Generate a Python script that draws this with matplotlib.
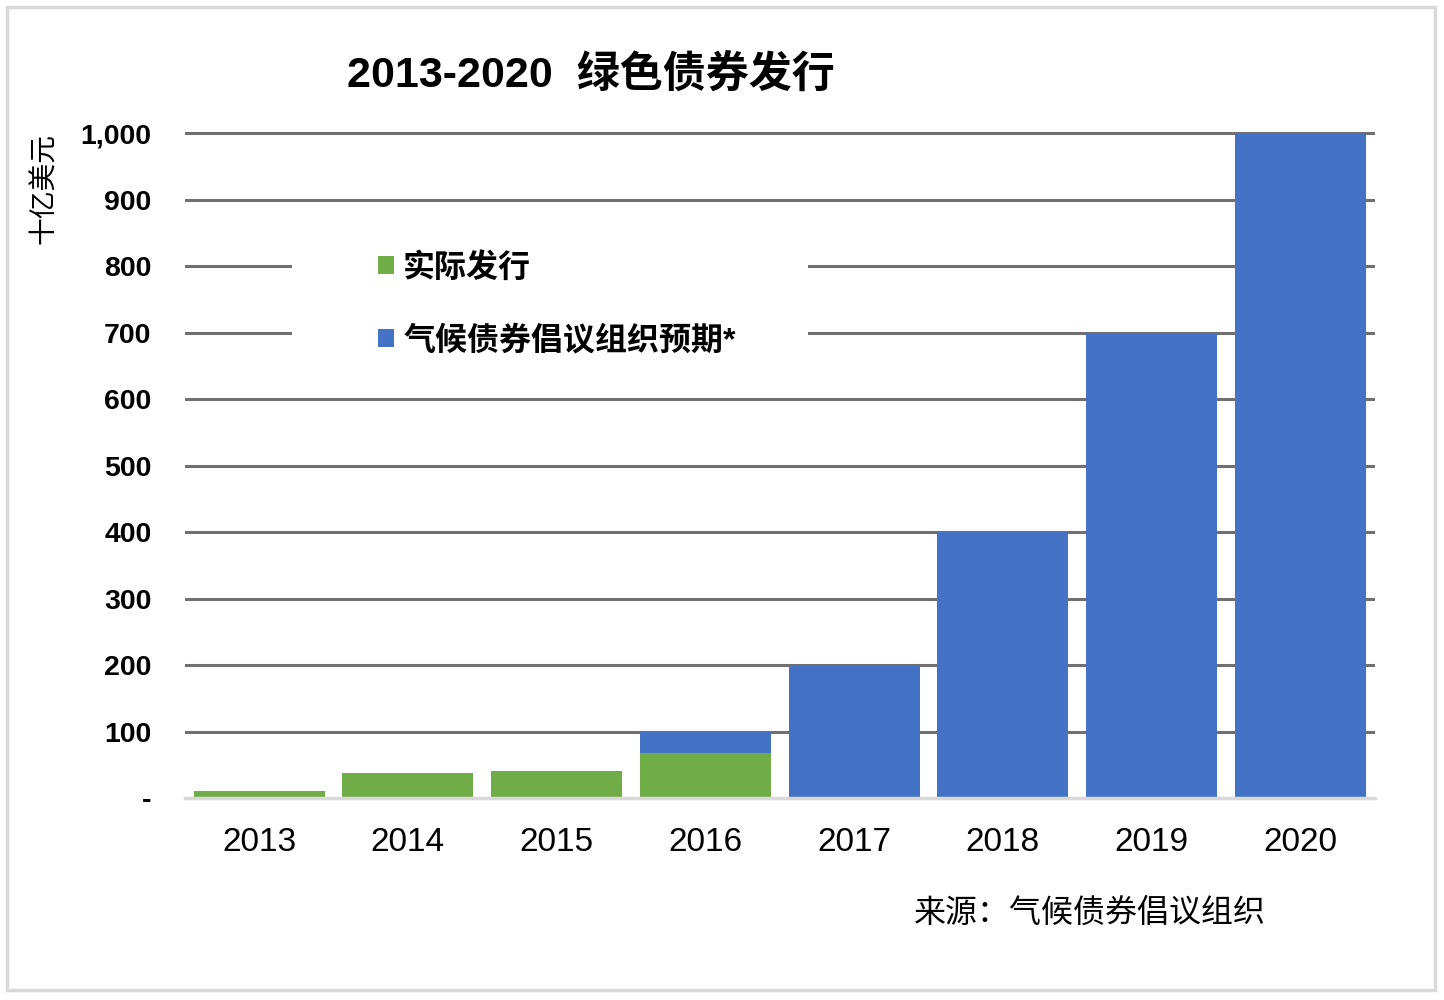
import matplotlib.pyplot as plt
from matplotlib.patches import Patch, Rectangle
import numpy as np

plt.rcParams['font.family'] = ['Liberation Sans', 'Noto Sans CJK SC', 'DejaVu Sans']

# ── data (USD billion) ──
years = ['2013', '2014', '2015', '2016', '2017', '2018', '2019', '2020']
actual = [11, 37, 41, 67, np.nan, np.nan, np.nan, np.nan]          # 实际发行
expected = [np.nan, np.nan, np.nan, 100, 200, 400, 700, 1000]      # 气候债券倡议组织预期
yticks = [0, 100, 200, 300, 400, 500, 600, 700, 800, 900, 1000]
ytick_labels = ['-', '100', '200', '300', '400', '500', '600', '700', '800', '900', '1,000']

green = '#70AD47'
blue = '#4472C4'

fig = plt.figure(figsize=(14.44, 10), dpi=100)
ax = fig.add_axes([0.128, 0.202, 0.824, 0.6715])

x = np.arange(len(years))
width = 0.88
ax.bar(x, expected, width, color=blue, zorder=2)
ax.bar(x, actual, width, color=green, zorder=3)

ax.set_xlim(-0.5, len(years) - 0.5)
ax.set_ylim(0, 1010)
ax.set_yticks(yticks)
ax.set_yticklabels(ytick_labels, fontsize=20.5, fontweight='bold')
ax.set_xticks(x)
ax.set_xticklabels(years, fontsize=24)
ax.tick_params(axis='y', length=0, pad=24)
ax.tick_params(axis='x', length=0, pad=21)

ax.set_axisbelow(True)
ax.yaxis.grid(True, color='#707070', linewidth=2.2, zorder=0.5)
for s in ['top', 'right', 'left']:
    ax.spines[s].set_visible(False)
ax.spines['bottom'].set_color('#d9d9d9')
ax.spines['bottom'].set_linewidth(2.5)
ax.spines['bottom'].set_zorder(4)

# white block behind the legend that cuts the gridlines
ax.add_patch(Rectangle((0.09, 0.637), 0.434, 0.194, transform=ax.transAxes,
                       facecolor='white', edgecolor='none', zorder=1))

handles = [Patch(facecolor=green, label='实际发行'),
           Patch(facecolor=blue, label='气候债券倡议组织预期*')]
leg = ax.legend(handles=handles, loc='upper left', bbox_to_anchor=(0.162, 0.812),
                frameon=False, fontsize=23, handlelength=0.5, handleheight=0.5,
                handletextpad=0.3, labelspacing=1.3, borderpad=0, borderaxespad=0)
for t in leg.get_texts():
    t.set_fontweight('bold')

fig.text(0.409, 0.925, '2013-2020  绿色债券发行', fontsize=31, fontweight='bold',
         ha='center', va='center')
fig.text(0.031, 0.812, '十亿美元', fontsize=20, rotation=90, ha='center', va='center')
fig.text(0.755, 0.086, '来源：气候债券倡议组织', fontsize=23, ha='center', va='center')

# light grey frame around the whole picture
fig.patches.append(Rectangle((0.005, 0.01), 0.989, 0.983, transform=fig.transFigure,
                             facecolor='none', edgecolor='#d9d9d9', linewidth=2.5))

fig.savefig('out.png', dpi=100)
